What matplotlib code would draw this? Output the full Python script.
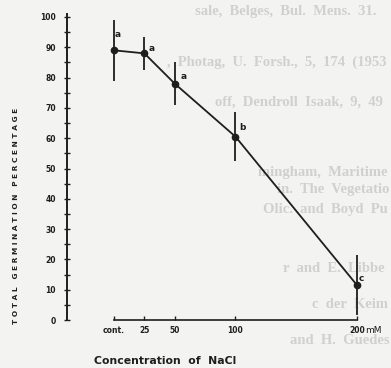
import matplotlib
matplotlib.use("Agg")
import matplotlib.pyplot as plt

# data
conc = [0, 25, 50, 100, 200]
tick_labels = ["cont.", "25", "50", "100", "200"]
germination = [89, 88, 78, 60.5, 11.5]
err = [10, 5.5, 7, 8, 10]
letters = ["a", "a", "a", "b", "c"]
yticks = [0, 10, 20, 30, 40, 50, 60, 70, 80, 90, 100]

bg = "#f3f3f1"
ink = "#1e1e1e"
ghost = "#d0d0ce"

W, H = 391, 368
fig = plt.figure(figsize=(W / 100, H / 100), dpi=100, facecolor=bg)
renderer = fig.canvas.get_renderer()

# faint bleed-through text from the reverse page
ghost_lines = [
    (195, 12, "sale,  Belges,  Bul.  Mens.  31.  166"),
    (167, 62, ",  Photag,  U.  Forsh.,  5,  174  (1953)."),
    (215, 102, "off,  Dendroll  Isaak,  9,  49  (English  s"),
    (258, 173, "mingham,  Maritime  and  Sub-arctic"),
    (277, 190, "in.  The  Vegetation  of  Scotland"),
    (263, 210, "Olic.  and  Boyd  Pub.,  1964)."),
    (283, 269, "r  and  E.  Libbert,  Physiologie  Oecol"),
    (312, 305, "c  der  Keimung,  A  VI  5  (1967)."),
    (290, 340, "and  H.  Guedes,  Bul.  Soc.  Sci.  Bretagne"),
]
for gx, gy, t in ghost_lines:
    txt = fig.text(gx / W, 1 - gy / H, t, color=ghost, fontsize=10.5,
                   family="Liberation Serif", fontweight="bold",
                   ha="left", va="center", zorder=0)
    # the reverse-page lines run off the right edge: keep only what fits
    while len(txt.get_text()) > 1 and txt.get_window_extent(renderer).x1 > W - 1:
        txt.set_text(txt.get_text()[:-1].rstrip())

x0, x1 = 67, 391
ybot, ytop = 320, 17
ax = fig.add_axes([x0 / W, 1 - ybot / H, (x1 - x0) / W, (ybot - ytop) / H])
ax.set_zorder(5)
ax.patch.set_alpha(0)
ax.set_xlim(-38.7, 228)
ax.set_ylim(0, 100)

ax.errorbar(conc, germination, yerr=err, fmt="o-", color=ink, ms=4.5,
            lw=1.3, elinewidth=1.3, capsize=0, zorder=3)

offsets = [(0.5, 8), (3, 0), (4, 1.7), (3, 3.5), (1.5, 1.5)]
for xv, yv, lab, off in zip(conc, germination, letters, offsets):
    ax.annotate(lab, (xv, yv), xytext=off, textcoords="offset points",
                fontsize=6.5, fontweight="bold", color=ink, ha="left", va="bottom")

for s in ["top", "right"]:
    ax.spines[s].set_visible(False)
ax.spines["left"].set_color(ink)
ax.spines["left"].set_linewidth(1.4)
ax.spines["left"].set_bounds(0, 101)
ax.spines["bottom"].set_color(ink)
ax.spines["bottom"].set_linewidth(1.2)
ax.spines["bottom"].set_bounds(0, 200)

ax.set_yticks(yticks)
ax.set_yticks(list(range(5, 100, 10)), minor=True)
ax.set_yticklabels([str(v) for v in yticks])
ax.tick_params(axis="y", which="both", direction="inout", length=4, width=1,
               color=ink, labelsize=5.5, labelcolor=ink, pad=6)
for lab in ax.get_yticklabels():
    lab.set_fontweight("bold")

ax.set_xticks(conc)
ax.set_xticklabels(tick_labels)
ax.tick_params(axis="x", direction="in", length=3, width=1, color=ink,
               labelsize=5.5, labelcolor=ink, pad=4)
for lab in ax.get_xticklabels():
    lab.set_fontweight("bold")

ax.annotate("mM", (200, 0), xytext=(6, -4), textcoords="offset points",
            fontsize=6.5, color=ink, ha="left", va="top")

fig.text(165 / W, 1 - 361 / H, "Concentration  of  NaCl", fontsize=7.8,
         fontweight="bold", color=ink, ha="center", va="center")
fig.text(16 / W, 1 - 216 / H, "T O T A L   G E R M I N A T I O N   P E R C E N T A G E",
         fontsize=5.3, fontweight="bold", color=ink, rotation=90,
         ha="center", va="center")

fig.savefig("out.png", dpi=100, facecolor=bg)
